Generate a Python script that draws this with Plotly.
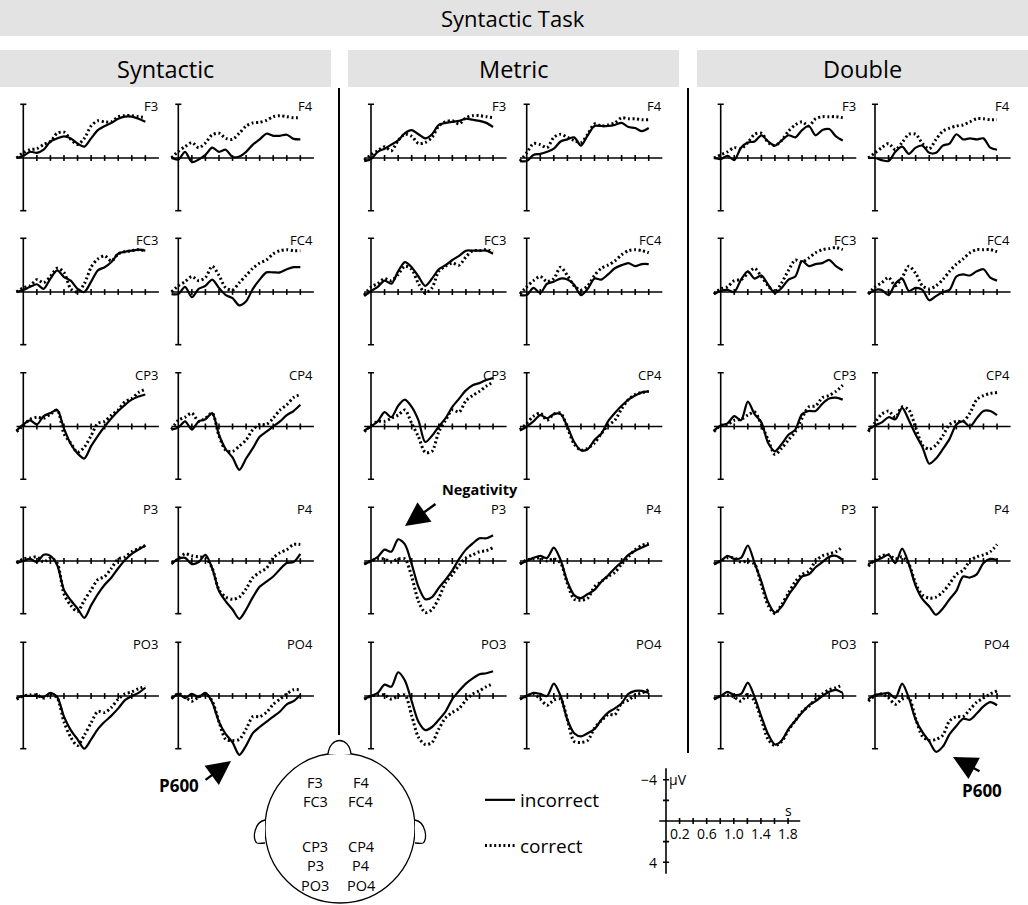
import plotly.graph_objects as go

# ERP grand averages, Syntactic Task: incorrect (solid) vs correct (dotted)
# negative is plotted up, as usual for ERPs

W, H = 1028, 905
PX_S = 67.8     # pixels per second
PX_UV = 10.33   # pixels per microvolt

TIME = [-0.1, 0.0, 0.1, 0.2, 0.3, 0.4, 0.5, 0.6, 0.7, 0.8, 0.9,
        1.0, 1.1, 1.2, 1.3, 1.4, 1.5, 1.6, 1.7, 1.8]
TICKS = [0.2, 0.4, 0.6, 0.8, 1.0, 1.2, 1.4, 1.6, 1.8]
SCALE_TICK_LABELS = [0.2, 0.6, 1.0, 1.4, 1.8]
SCALE_UV_TICKS = [-4, -2, 2, 4]
CONDITIONS = ["Syntactic", "Metric", "Double"]
CHANNELS = [["F3", "F4"], ["FC3", "FC4"], ["CP3", "CP4"], ["P3", "P4"], ["PO3", "PO4"]]
HEAD_LABELS = [["F3", "F4"], ["FC3", "FC4"], ["CP3", "CP4"], ["P3", "P4"], ["PO3", "PO4"]]

####################################################################################################
# Data (microvolts, one value per TIME point)
####################################################################################################
SYN_F3_INC = [0, -0.2, -0.6, -0.5, -0.8, -1.6, -1.9, -2.1, -1.9, -1.4, -1.1, -1.9, -2.7, -3.1, -3.4, -3.8, -4.0, -4.0, -3.8, -3.5]
SYN_F3_COR = [0, -0.5, -0.8, -0.9, -1.3, -1.6, -2.4, -2.5, -1.8, -1.3, -1.9, -3.1, -3.6, -3.5, -3.5, -4.0, -4.1, -4.1, -4.0, -3.9]
SYN_F4_INC = [0, 0.15, -0.6, 0.4, 0.15, -0.3, -1.0, -0.6, -0.8, -0.1, -0.15, -0.6, -1.3, -1.8, -2.35, -2.15, -2.15, -2.25, -1.85, -1.8]
SYN_F4_COR = [0, -0.65, -1.1, -1.5, -1.0, -1.45, -2.25, -2.4, -1.9, -1.8, -2.4, -3.1, -3.4, -3.45, -3.65, -4.0, -4.1, -4.0, -3.9, -3.9]
SYN_FC3_INC = [0, -0.2, -0.5, -0.75, -0.3, -1.3, -2.1, -1.45, -1.1, -0.3, 0.0, -1.0, -2.1, -2.4, -2.9, -3.7, -3.9, -4.0, -4.1, -4.0]
SYN_FC3_COR = [0, -0.4, -0.6, -1.2, -0.9, -1.5, -2.3, -1.9, -0.3, 0.0, -0.8, -2.4, -3.2, -3.5, -3.0, -3.7, -3.9, -4.0, -4.1, -4.0]
SYN_FC4_INC = [0.2, 0.2, -0.5, 0.5, -0.3, -0.6, -1.2, -0.4, 0.3, 0.6, 1.3, 0.9, -0.3, -1.2, -1.9, -1.9, -1.9, -2.2, -2.4, -2.4]
SYN_FC4_COR = [0, -0.6, -1.0, -1.5, -1.1, -1.4, -2.5, -1.6, -0.4, -0.2, -0.9, -1.6, -2.3, -2.8, -3.1, -3.7, -4.0, -4.1, -4.0, -4.0]
SYN_CP3_INC = [0.4, -0.2, -0.6, -0.2, -1.0, -1.3, -1.6, 0.2, 1.7, 2.6, 3.1, 1.9, 0.9, 0.0, -0.8, -1.5, -2.1, -2.6, -2.9, -3.1]
SYN_CP3_COR = [0.5, -0.1, -0.7, -0.9, -0.8, -1.2, -1.6, 0.7, 1.6, 2.5, 2.0, 0.9, -0.3, -0.5, -1.1, -1.6, -2.4, -2.7, -3.3, -3.6]
SYN_CP4_INC = [0.3, 0.1, -0.5, 0.3, -0.5, -0.7, -1.3, 0.8, 2.2, 3.0, 4.2, 3.1, 2.1, 1.0, 0.5, 0.0, -0.5, -1.1, -1.5, -2.1]
SYN_CP4_COR = [0.3, -0.6, -0.9, -1.3, -0.5, -0.8, -1.3, 0.9, 2.3, 2.4, 1.9, 1.3, 0.3, -0.2, -0.2, -0.8, -1.6, -2.1, -2.8, -3.1]
SYN_P3_INC = [0.2, 0.0, -0.2, 0.1, -0.6, -0.5, 0.4, 2.8, 3.8, 4.6, 5.5, 4.3, 3.2, 2.3, 1.6, 0.7, -0.1, -0.7, -1.1, -1.5]
SYN_P3_COR = [0.2, -0.2, -0.3, -0.4, 0.1, -0.3, 0.2, 3.2, 4.3, 4.9, 3.8, 2.8, 1.8, 1.5, 0.7, -0.2, -0.4, -0.9, -1.2, -1.5]
SYN_P4_INC = [0.3, -0.2, -0.3, 0.3, 0.1, -0.6, 0.7, 2.9, 3.9, 4.7, 5.6, 4.7, 3.5, 2.5, 2.0, 1.5, 0.8, 0.2, 0.1, -0.7]
SYN_P4_COR = [0.2, -0.2, -0.7, -0.5, -0.4, -0.3, 0.7, 2.8, 3.5, 3.7, 3.5, 2.7, 1.6, 1.1, 0.7, -0.3, -0.8, -1.1, -1.6, -1.6]
SYN_PO3_INC = [0.2, 0.0, 0.0, 0.0, 0.1, -0.3, 0.1, 2.0, 3.3, 4.2, 5.1, 4.2, 3.2, 2.5, 1.9, 1.2, 0.4, 0.0, -0.3, -0.8]
SYN_PO3_COR = [0.3, 0.0, -0.1, -0.1, 0.2, -0.2, 0.2, 2.5, 4.0, 4.8, 3.8, 2.6, 1.5, 1.6, 1.1, 0.3, -0.2, -0.4, -0.7, -0.9]
SYN_PO4_INC = [0.3, -0.2, 0.2, -0.2, 0.1, -0.3, 0.6, 2.5, 3.7, 4.5, 5.7, 4.8, 3.6, 3.0, 2.5, 2.0, 1.5, 0.8, 0.5, -0.1]
SYN_PO4_COR = [0.2, -0.2, 0.1, 0.5, 0.1, -0.2, 0.5, 2.5, 4.2, 4.3, 4.2, 3.2, 2.0, 2.0, 1.6, 0.8, 0.3, -0.2, -0.6, -0.6]

MET_F3_INC = [0.3, 0.1, -0.6, -0.9, -1.3, -1.7, -2.4, -2.7, -2.3, -1.9, -2.3, -3.2, -3.4, -3.5, -3.6, -3.8, -3.7, -3.6, -3.4, -3.0]
MET_F3_COR = [0.2, -0.3, -0.7, -1.1, -0.7, -1.7, -2.3, -2.1, -1.4, -1.5, -2.0, -3.1, -3.5, -3.6, -3.3, -3.9, -4.1, -4.1, -4.0, -3.9]
MET_F4_INC = [0.3, 0.3, -0.3, -0.4, -0.6, -0.9, -1.6, -1.8, -2.0, -1.2, -2.2, -3.1, -3.1, -3.1, -3.2, -3.4, -3.0, -2.9, -2.6, -2.9]
MET_F4_COR = [0.3, -0.5, -1.4, -1.3, -1.0, -2.0, -2.3, -2.0, -1.7, -1.5, -2.3, -3.3, -3.1, -3.2, -3.4, -3.9, -3.8, -3.8, -3.7, -3.7]
MET_FC3_INC = [0.4, -0.1, -0.5, -1.1, -0.8, -2.0, -2.9, -2.4, -1.5, -0.6, -1.3, -2.2, -2.6, -3.1, -3.5, -4.0, -4.0, -4.0, -4.0, -3.7]
MET_FC3_COR = [0.3, -0.5, -0.8, -1.3, -1.1, -1.7, -2.5, -2.2, -0.8, 0.1, -0.4, -2.0, -2.5, -2.8, -2.6, -3.4, -4.0, -4.0, -4.1, -3.9]
MET_FC4_INC = [0.3, 0.3, -0.4, 0.1, -0.8, -1.0, -1.3, -1.2, -0.7, 0.3, -0.3, -1.3, -1.2, -1.7, -2.3, -2.6, -2.8, -2.5, -2.7, -2.7]
MET_FC4_COR = [0.2, -0.5, -1.1, -1.5, -1.0, -1.3, -2.4, -1.6, -0.6, -0.2, -0.6, -1.6, -2.3, -2.6, -3.0, -3.6, -4.0, -4.1, -4.0, -3.8]
MET_CP3_INC = [0.4, 0.0, -0.5, -1.4, -0.9, -2.0, -2.6, -1.9, -0.6, 1.5, 0.9, 0.0, -0.8, -1.9, -2.7, -3.5, -4.0, -4.2, -4.5, -4.7]
MET_CP3_COR = [0.5, -0.1, -0.5, -0.5, -0.8, -1.1, -1.6, -0.3, 1.0, 2.5, 2.4, 0.5, -0.6, -1.6, -1.4, -2.5, -3.0, -3.4, -3.9, -4.3]
MET_CP4_INC = [0.4, 0.0, -0.5, -1.1, -0.8, -1.2, -1.2, 0.0, 1.5, 2.3, 2.2, 1.3, 0.7, -0.5, -1.3, -2.0, -2.6, -3.0, -3.3, -3.4]
MET_CP4_COR = [0.3, -0.3, -1.0, -1.3, -0.6, -1.2, -1.3, 0.1, 1.7, 2.3, 2.1, 1.6, 0.7, -0.1, -0.6, -1.7, -2.6, -3.1, -3.3, -3.4]
MET_P3_INC = [0.3, 0.0, -0.4, -1.1, -0.9, -2.1, -1.6, 0.3, 2.5, 3.7, 3.5, 2.6, 1.8, 0.9, -0.2, -1.1, -1.7, -2.2, -2.2, -2.5]
MET_P3_COR = [0.3, 0.0, -0.2, -0.2, 0.1, -0.2, -0.2, 1.5, 3.9, 5.0, 4.7, 3.6, 2.1, 1.3, 0.4, -0.3, -0.6, -0.9, -1.0, -1.3]
MET_P4_INC = [0.3, 0.0, -0.3, -0.5, -0.3, -1.3, -0.1, 2.0, 3.3, 3.6, 3.2, 2.8, 2.0, 1.4, 0.7, 0.1, -0.6, -1.0, -1.3, -1.6]
MET_P4_COR = [0.3, -0.1, -0.2, -0.3, 0.0, -0.2, 0.2, 2.2, 3.7, 3.8, 3.6, 2.5, 2.0, 1.5, 1.1, 0.3, -0.4, -1.1, -1.5, -1.7]
MET_PO3_INC = [0.3, 0.0, -0.3, -1.1, -0.9, -2.3, -1.5, 0.5, 2.5, 3.3, 3.0, 2.3, 1.5, 0.3, -0.5, -1.2, -1.7, -2.1, -2.2, -2.4]
MET_PO3_COR = [0.3, 0.0, -0.1, -0.1, 0.3, 0.0, -0.1, 1.9, 4.0, 4.7, 4.5, 3.2, 2.1, 1.6, 1.2, 0.4, -0.2, -0.5, -0.9, -1.2]
MET_PO4_INC = [0.3, 0.0, -0.3, -0.2, 0.0, -1.2, 0.0, 2.3, 3.6, 3.9, 3.6, 3.2, 2.3, 1.6, 1.2, 0.7, -0.2, -0.5, -0.5, -0.3]
MET_PO4_COR = [0.3, 0.0, -0.2, 0.3, 0.9, 0.4, 0.3, 2.3, 4.4, 4.5, 4.3, 3.1, 2.4, 1.8, 1.8, 0.7, 0.4, -0.1, -0.3, -0.6]

DBL_F3_INC = [0.0, 0.1, -0.2, 0.2, -1.0, -1.5, -1.6, -2.2, -1.6, -1.2, -1.7, -2.2, -2.0, -2.7, -3.1, -2.2, -2.7, -2.8, -2.1, -1.7]
DBL_F3_COR = [0.0, -0.3, -0.6, -1.0, -0.9, -1.5, -2.3, -2.4, -1.5, -1.2, -1.7, -2.6, -3.2, -3.5, -3.1, -3.8, -4.0, -4.0, -4.0, -3.9]
DBL_F4_INC = [0.0, 0.0, 0.2, 0.3, -0.6, -1.1, -0.4, -1.0, -1.2, -0.5, -0.5, -1.2, -1.4, -2.3, -1.8, -1.9, -1.8, -1.9, -1.0, -0.8]
DBL_F4_COR = [0.0, -0.5, -1.0, -1.4, -0.8, -1.5, -2.3, -2.3, -1.4, -0.9, -1.8, -2.6, -2.9, -3.1, -3.2, -3.5, -3.8, -3.8, -3.7, -3.7]
DBL_FC3_INC = [0.2, -0.1, -0.2, 0.0, -1.2, -2.0, -1.3, -1.6, -0.7, 0.1, -0.4, -1.2, -1.5, -3.0, -2.5, -2.7, -2.8, -3.1, -2.5, -2.1]
DBL_FC3_COR = [0.2, -0.3, -0.5, -1.1, -1.2, -1.8, -2.3, -1.5, -0.6, 0.0, -0.9, -2.1, -3.1, -2.9, -3.3, -3.8, -4.1, -4.2, -4.3, -4.1]
DBL_FC4_INC = [0.2, -0.2, -0.2, 0.3, -0.8, -1.3, -0.1, -0.4, -0.2, 0.8, 0.4, 0.0, -0.2, -1.5, -1.7, -1.6, -2.0, -2.2, -1.4, -1.1]
DBL_FC4_COR = [0.2, -0.5, -0.9, -1.4, -0.6, -1.4, -2.5, -1.8, -0.6, -0.3, -0.6, -1.2, -2.0, -2.7, -3.2, -3.8, -4.1, -4.1, -4.1, -3.9]
DBL_CP3_INC = [0.4, -0.1, -0.3, -1.0, -0.6, -2.4, -1.2, -0.4, 1.6, 2.4, 1.7, 0.8, 0.3, -1.2, -1.5, -1.5, -2.2, -2.7, -2.8, -2.6]
DBL_CP3_COR = [0.5, -0.1, -0.2, -0.6, -0.7, -1.1, -1.4, -0.2, 1.3, 2.7, 2.1, 1.3, 0.5, -0.8, -1.9, -2.0, -2.8, -3.0, -3.4, -4.0]
DBL_CP4_INC = [0.3, -0.1, -0.4, -0.9, -0.7, -1.8, -0.6, 0.8, 2.0, 3.6, 3.1, 2.2, 1.2, -0.2, -0.5, 0.0, -0.8, -1.5, -1.5, -1.1]
DBL_CP4_COR = [0.5, -0.4, -1.2, -1.5, -0.9, -1.9, -1.6, 0.1, 1.8, 2.2, 1.8, 0.9, -0.2, -0.5, -0.5, -1.3, -2.6, -3.0, -3.2, -3.3]
DBL_P3_INC = [0.3, 0.0, -0.5, -0.2, -0.3, -1.5, 0.2, 2.0, 4.0, 5.0, 4.4, 3.3, 2.4, 1.5, 1.3, 0.6, 0.1, -0.4, -0.5, -0.1]
DBL_P3_COR = [0.3, 0.0, -0.3, -0.3, 0.1, 0.0, 0.3, 2.3, 4.3, 5.1, 4.2, 3.1, 2.0, 1.3, 1.0, 0.0, -0.5, -0.7, -0.9, -1.4]
DBL_P4_INC = [0.3, 0.0, -0.3, -0.6, 0.2, -1.2, 0.3, 2.4, 3.7, 4.4, 5.2, 4.6, 3.7, 2.9, 1.5, 1.6, 1.3, 0.2, -0.2, -0.1]
DBL_P4_COR = [0.5, -0.1, -0.5, -0.6, -0.2, -0.4, 0.3, 2.2, 3.3, 3.6, 3.5, 3.0, 2.2, 1.3, 0.9, 0.0, -0.4, -0.6, -0.9, -1.6]
DBL_PO3_INC = [0.3, 0.0, -0.4, -0.1, -0.2, -1.3, 0.1, 2.0, 3.7, 4.7, 4.3, 3.2, 2.4, 1.6, 0.9, 0.5, 0.0, -0.4, -0.6, -0.3]
DBL_PO3_COR = [0.3, 0.0, -0.1, 0.1, 0.5, -0.2, 0.5, 2.3, 4.2, 4.8, 4.4, 3.3, 2.4, 1.5, 1.0, 0.3, -0.2, -0.6, -0.8, -1.1]
DBL_PO4_INC = [0.3, -0.1, -0.2, -0.3, 0.2, -1.2, 0.2, 2.3, 3.5, 4.4, 5.4, 4.9, 3.7, 2.9, 2.2, 2.3, 1.7, 1.0, 0.6, 0.9]
DBL_PO4_COR = [0.5, 0.0, -0.2, 0.2, 0.8, 0.3, 0.2, 2.2, 3.9, 4.3, 4.2, 3.8, 2.4, 2.0, 2.0, 1.3, 0.6, 0.2, -0.2, -0.5]

WAVES = {
    ("Syntactic", "F3"): (SYN_F3_INC, SYN_F3_COR), ("Syntactic", "F4"): (SYN_F4_INC, SYN_F4_COR),
    ("Syntactic", "FC3"): (SYN_FC3_INC, SYN_FC3_COR), ("Syntactic", "FC4"): (SYN_FC4_INC, SYN_FC4_COR),
    ("Syntactic", "CP3"): (SYN_CP3_INC, SYN_CP3_COR), ("Syntactic", "CP4"): (SYN_CP4_INC, SYN_CP4_COR),
    ("Syntactic", "P3"): (SYN_P3_INC, SYN_P3_COR), ("Syntactic", "P4"): (SYN_P4_INC, SYN_P4_COR),
    ("Syntactic", "PO3"): (SYN_PO3_INC, SYN_PO3_COR), ("Syntactic", "PO4"): (SYN_PO4_INC, SYN_PO4_COR),
    ("Metric", "F3"): (MET_F3_INC, MET_F3_COR), ("Metric", "F4"): (MET_F4_INC, MET_F4_COR),
    ("Metric", "FC3"): (MET_FC3_INC, MET_FC3_COR), ("Metric", "FC4"): (MET_FC4_INC, MET_FC4_COR),
    ("Metric", "CP3"): (MET_CP3_INC, MET_CP3_COR), ("Metric", "CP4"): (MET_CP4_INC, MET_CP4_COR),
    ("Metric", "P3"): (MET_P3_INC, MET_P3_COR), ("Metric", "P4"): (MET_P4_INC, MET_P4_COR),
    ("Metric", "PO3"): (MET_PO3_INC, MET_PO3_COR), ("Metric", "PO4"): (MET_PO4_INC, MET_PO4_COR),
    ("Double", "F3"): (DBL_F3_INC, DBL_F3_COR), ("Double", "F4"): (DBL_F4_INC, DBL_F4_COR),
    ("Double", "FC3"): (DBL_FC3_INC, DBL_FC3_COR), ("Double", "FC4"): (DBL_FC4_INC, DBL_FC4_COR),
    ("Double", "CP3"): (DBL_CP3_INC, DBL_CP3_COR), ("Double", "CP4"): (DBL_CP4_INC, DBL_CP4_COR),
    ("Double", "P3"): (DBL_P3_INC, DBL_P3_COR), ("Double", "P4"): (DBL_P4_INC, DBL_P4_COR),
    ("Double", "PO3"): (DBL_PO3_INC, DBL_PO3_COR), ("Double", "PO4"): (DBL_PO4_INC, DBL_PO4_COR),
}

####################################################################################################
# Geometry (pixels)
####################################################################################################
AXIS_X = {"Syntactic": [23.3, 178.3], "Metric": [371.0, 526.7], "Double": [720.7, 875.0]}
ROW_Y = [158, 292, 426.5, 561, 696]
SCALE_ORIGIN = (666, 821)
XR = (-0.3, 2.15)
YR = (6.4, -6.4)
X_SPAN = (-0.1, 2.0)
Y_SPAN = (-5.2, 5.1)
CAP = 0.045
TK = 0.28
FONT = "Open Sans"


def px(x):
    return x / W


def py(y):
    return 1 - y / H


fig = go.Figure()
layout = {}
annotations = []
shapes = []


def note(x, y, text, size, **kw):
    # paper-positioned text, centred unless told otherwise
    d = dict(x=px(x), y=py(y), xref="paper", yref="paper", text=text, showarrow=False,
             xanchor="center", yanchor="middle", font=dict(size=size))
    d.update(kw)
    annotations.append(d)


def add_axes(n, x0, y0):
    sx = "" if n == 1 else str(n)
    layout["xaxis" + sx] = dict(domain=[px(x0 + XR[0] * PX_S), px(x0 + XR[1] * PX_S)], range=list(XR),
                                visible=False, anchor="y" + sx, fixedrange=True)
    layout["yaxis" + sx] = dict(domain=[py(y0 + abs(YR[1]) * PX_UV), py(y0 - abs(YR[1]) * PX_UV)],
                                range=list(YR), visible=False, anchor="x" + sx, fixedrange=True)
    return "x" + sx, "y" + sx


def skeleton(xref, yref, caps=True, yticks=(), xspan=X_SPAN, yspan=Y_SPAN):
    xs, ys = [xspan[0], xspan[1], None, 0, 0, None], [0, 0, None, yspan[0], yspan[1], None]
    if caps:
        for v in yspan:
            xs += [-CAP, CAP, None]
            ys += [v, v, None]
    for t in TICKS:
        xs += [t, t, None]
        ys += [-TK, TK, None]
    for v in yticks:
        xs += [-CAP, CAP, None]
        ys += [v, v, None]
    fig.add_trace(go.Scatter(x=xs, y=ys, xaxis=xref, yaxis=yref, mode="lines",
                             line=dict(color="black", width=1.6), hoverinfo="skip", showlegend=False))


n = 0
first = True
for cond in CONDITIONS:
    for r, pair in enumerate(CHANNELS):
        for c, ch in enumerate(pair):
            n += 1
            xref, yref = add_axes(n, AXIS_X[cond][c], ROW_Y[r])
            skeleton(xref, yref)
            inc, cor = WAVES[(cond, ch)]
            fig.add_trace(go.Scatter(x=TIME, y=cor, xaxis=xref, yaxis=yref, mode="lines",
                                     line=dict(color="black", width=3, dash="2px,2.6px", shape="spline", smoothing=0.8),
                                     name="correct", legendgroup="cor", showlegend=first, legendrank=2))
            fig.add_trace(go.Scatter(x=TIME, y=inc, xaxis=xref, yaxis=yref, mode="lines",
                                     line=dict(color="black", width=2.2, shape="spline", smoothing=0.8),
                                     name="incorrect", legendgroup="inc", showlegend=first, legendrank=1))
            first = False
            annotations.append(dict(x=2.02, y=-5.0, xref=xref, yref=yref, text=ch, showarrow=False,
                                    xanchor="right", yanchor="middle", font=dict(size=13)))

# scale bar
n += 1
sxr, syr = add_axes(n, SCALE_ORIGIN[0], SCALE_ORIGIN[1])
skeleton(sxr, syr, caps=False, yticks=SCALE_UV_TICKS, xspan=(-0.1, 1.98), yspan=(-5.1, 5.1))
for t in SCALE_TICK_LABELS:
    annotations.append(dict(x=t, y=1.25, xref=sxr, yref=syr, text=f"{t:.1f}", showarrow=False,
                            xanchor="center", yanchor="middle", font=dict(size=14)))
annotations.append(dict(x=-0.1, y=-4, xref=sxr, yref=syr, text="\u22124", showarrow=False,
                        xanchor="right", yanchor="middle", font=dict(size=14)))
annotations.append(dict(x=-0.1, y=4, xref=sxr, yref=syr, text="4", showarrow=False,
                        xanchor="right", yanchor="middle", font=dict(size=14)))
annotations.append(dict(x=0.02, y=-4, xref=sxr, yref=syr, text="\u00b5V", showarrow=False,
                        xanchor="left", yanchor="middle", font=dict(size=14)))
annotations.append(dict(x=1.8, y=-1.05, xref=sxr, yref=syr, text="s", showarrow=False,
                        xanchor="center", yanchor="middle", font=dict(size=14)))

####################################################################################################
# Headers, separators
####################################################################################################
GRAY = "#e3e3e3"
shapes.append(dict(type="rect", xref="paper", yref="paper", x0=px(0), x1=px(W), y0=py(36), y1=py(0),
                   fillcolor=GRAY, line_width=0, layer="below"))
note(513, 18, "Syntactic Task", 22)
for cond, (x0, x1) in zip(CONDITIONS, [(0, 331), (348, 679), (697, W)]):
    shapes.append(dict(type="rect", xref="paper", yref="paper", x0=px(x0), x1=px(x1), y0=py(87), y1=py(50),
                       fillcolor=GRAY, line_width=0, layer="below"))
    note((x0 + x1) / 2, 69, cond, 23.5)

for x, y1 in [(339, 735), (688, 753)]:
    shapes.append(dict(type="line", xref="paper", yref="paper", x0=px(x), x1=px(x), y0=py(88), y1=py(y1),
                       line=dict(color="black", width=2)))

####################################################################################################
# Head
####################################################################################################
HX, HY, HR = 340, 828, 75
shapes.append(dict(type="circle", xref="paper", yref="paper", x0=px(HX - HR), x1=px(HX + HR),
                   y0=py(HY + HR), y1=py(HY - HR), line=dict(color="black", width=1.3)))


def path(points):
    s = "M {} {}".format(px(points[0][0]), py(points[0][1]))
    for i in range(1, len(points), 3):
        s += " C " + ", ".join("{} {}".format(px(a), py(b)) for a, b in points[i:i + 3])
    return s


nose = [(328, 754), (330, 736), (349, 736), (351, 754)]
ear_l = [(265, 820), (254, 822), (252, 840), (257, 843), (259, 844), (262, 843), (265, 843)]
ear_r = [(2 * HX - x, y) for x, y in ear_l]
for pts in (nose, ear_l, ear_r):
    shapes.append(dict(type="path", xref="paper", yref="paper", path=path(pts),
                       line=dict(color="black", width=1.3), fillcolor="white"))

for r, row_y in enumerate([782, 801, 846, 865, 885]):
    for c, col_x in enumerate([315, 361]):
        note(col_x, row_y, HEAD_LABELS[r][c], 14.5)

####################################################################################################
# Arrows
####################################################################################################
for tip, tail, label, lpos, size in [((231, 761), (204, 781), "P600", (179, 785), 17),
                                     ((953, 757), (981, 772), "P600", (982, 790), 17),
                                     ((405, 526), (437, 503), "Negativity", (480, 490), 14.5)]:
    annotations.append(dict(x=px(tip[0]), y=py(tip[1]), xref="paper", yref="paper", text="",
                            xanchor="center", yanchor="middle",
                            showarrow=True, arrowhead=2, arrowsize=2, arrowwidth=2.4, arrowcolor="black",
                            ax=tail[0] - tip[0], ay=tail[1] - tip[1], standoff=0, startstandoff=0))
    note(lpos[0], lpos[1], "<b>" + label + "</b>", size)

####################################################################################################
# Final layout
####################################################################################################
fig.update_layout(
    width=W, height=H, margin=dict(l=0, r=0, t=0, b=0),
    paper_bgcolor="white", plot_bgcolor="rgba(0,0,0,0)",
    font=dict(family=FONT, color="black"),
    showlegend=True,
    legend=dict(x=px(480), y=py(781), xanchor="left", yanchor="top", font=dict(size=19),
                tracegroupgap=18, bgcolor="rgba(0,0,0,0)", itemclick=False, itemdoubleclick=False),
    annotations=annotations, shapes=shapes,
    **layout,
)

# the page's default 8px body margin would push the fixed-size figure off its place
fig.write_html("out.html", config={"displayModeBar": False},
               post_script="document.body.style.margin = '0';")
